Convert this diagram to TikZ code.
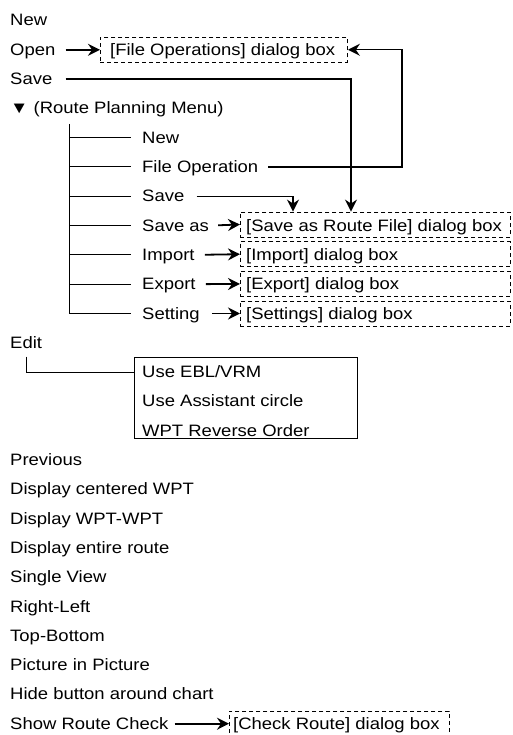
\documentclass[tikz,border=0pt]{standalone}
\usepackage{fontspec}
\setmainfont{Liberation Sans}[FakeStretch=1.12]
\usetikzlibrary{arrows.meta,calc}
\begin{document}
\begin{tikzpicture}[x=1pt,y=-1pt, font=\fontsize{16.5}{19}\selectfont,
 lbl/.style={inner sep=0pt, text height=11pt, text depth=0pt, anchor=base west},
 dlg/.style={draw, dash pattern=on 4pt off 3pt, line width=0.9pt, inner sep=0pt, minimum height=25pt, anchor=west},
 arr/.style={-{Stealth[length=12pt,width=12pt,inset=4pt]}, line width=1.8pt},
 tree/.style={line width=1pt}]
\useasboundingbox (0,0) rectangle (512,735);

% top level
\node[lbl] (new) at (10,26) {New};
\node[lbl] (open) at (10,55.3) {Open};
\node[lbl] (save) at (10,84.6) {Save};
\node[lbl] (route) at (10,113.9) {▼ (Route Planning Menu)};
% sub menu
\node[lbl] (snew) at (142,143.2) {New};
\node[lbl] (fileop) at (142,172.5) {File Operation};
\node[lbl] (ssave) at (142,201.8) {Save};
\node[lbl] (saveas) at (142,231.1) {Save as};
\node[lbl] (import) at (142,260.4) {Import};
\node[lbl] (export) at (142,289.7) {Export};
\node[lbl] (setting) at (142,319) {Setting};
% edit
\node[lbl] (edit) at (10,348.3) {Edit};
\node[draw, line width=1pt, minimum width=223pt, minimum height=81pt, inner sep=0pt, anchor=north west] (editbox) at (134,357) {};
\node[lbl] (ebl) at (142,377.6) {Use EBL/VRM};
\node[lbl] (assist) at (142,406.9) {Use Assistant circle};
\node[lbl] (wptrev) at (142,436.2) {WPT Reverse Order};
% rest
\node[lbl] (prev) at (10,465.5) {Previous};
\node[lbl] (dcw) at (10,494.8) {Display centered WPT};
\node[lbl] (dww) at (10,524.1) {Display WPT-WPT};
\node[lbl] (der) at (10,553.4) {Display entire route};
\node[lbl] (sv) at (10,582.7) {Single View};
\node[lbl] (rl) at (10,612) {Right-Left};
\node[lbl] (tb) at (10,641.3) {Top-Bottom};
\node[lbl] (pip) at (10,670.6) {Picture in Picture};
\node[lbl] (hide) at (10,699.9) {Hide button around chart};
\node[lbl] (src) at (10,729.2) {Show Route Check};

% dialog boxes
\node[dlg, minimum width=247pt] (fobox) at (100,49.8) {};
\node[lbl] (fotext) at (110,55.3) {[File Operations] dialog box};
\node[dlg, minimum width=270pt] (sabox) at (240,224.5) {};
\node[lbl] (satext) at (246,231.1) {[Save as Route File] dialog box};
\node[dlg, minimum width=270pt] (imbox) at (240,254.2) {};
\node[lbl] (imtext) at (246,260.4) {[Import] dialog box};
\node[dlg, minimum width=270pt] (exbox) at (240,283.9) {};
\node[lbl] (extext) at (246,289.7) {[Export] dialog box};
\node[dlg, minimum width=270pt] (stbox) at (240,313.5) {};
\node[lbl] (sttext) at (246,319) {[Settings] dialog box};
\node[dlg, minimum width=220pt] (ckbox) at (229,723.7) {};
\node[lbl] (cktext) at (233,729.2) {[Check Route] dialog box};

% tree
\coordinate (trunk) at (69,124);
\draw[tree] (trunk) |- ([xshift=-11pt]setting.west);
\foreach \n in {snew,fileop,ssave,saveas,import,export} {
  \draw[tree] (trunk |- \n.west) -- ([xshift=-11pt]\n.west);
}
\draw[tree] ([xshift=16pt,yshift=-8pt]edit.south west) |- (ebl.west -| editbox.west);

% arrows
\draw[arr, shorten <=10pt] (open.east) -- (fobox.west);
\draw[arr, line width=1.4pt, shorten <=10pt] (fileop.east) -| ($(fobox.east)+(54,0)$) -- (fobox.east);
\draw[arr, line width=1.4pt, shorten <=13pt] (save.east) -| ($(sabox.north west)+(111,0)$);
\draw[arr, line width=1.2pt, shorten <=12pt] (ssave.east) -| ($(sabox.north west)+(53,0)$);
\draw[arr, shorten <=9pt] (saveas.east) -- (sabox.west);
\draw[arr, shorten <=10pt] (import.east) -- (imbox.west);
\draw[arr, shorten <=10pt] (export.east) -- (exbox.west);
\draw[arr, shorten <=12pt] (setting.east) -- (stbox.west);
\draw[arr, shorten <=6pt] (src.east) -- (ckbox.west);
\end{tikzpicture}
\end{document}
